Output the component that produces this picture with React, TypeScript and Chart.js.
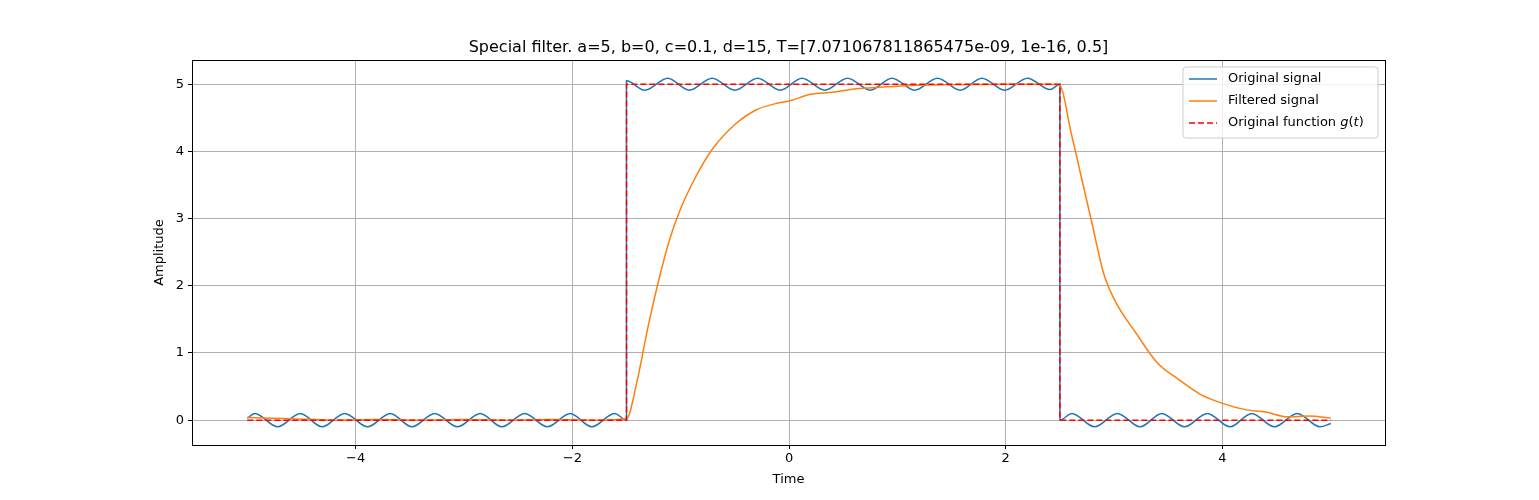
import { useEffect, useRef } from "react";
import { Chart, registerables } from "chart.js";

Chart.register(...registerables);

const origX = [
  -5.0, -4.93, -4.72, -4.51, -4.31, -4.1, -3.89, -3.68, -3.48, -3.27, -3.06, -2.85, -2.65, -2.44, -2.23, -2.02,
  -1.82, -1.61, -1.5, -1.5, -1.33, -1.12, -0.92, -0.71, -0.5, -0.29, -0.08, 0.12, 0.33, 0.54, 0.75, 0.95, 1.16,
  1.37, 1.58, 1.78, 1.99, 2.2, 2.41, 2.5, 2.5, 2.61, 2.82, 3.03, 3.24, 3.44, 3.65, 3.86, 4.07, 4.27, 4.48, 4.69,
  4.9, 5.0,
];
const origY = [
  0.03, 0.1, -0.1, 0.1, -0.1, 0.1, -0.1, 0.1, -0.1, 0.1, -0.1, 0.1, -0.1, 0.1, -0.1, 0.1,
  -0.1, 0.1, 0.0, 5.05, 4.91, 5.09, 4.91, 5.09, 4.91, 5.09, 4.91, 5.09, 4.91, 5.09, 4.91, 5.09, 4.91,
  5.09, 4.91, 5.09, 4.91, 5.09, 4.92, 5.0, 0.0, 0.1, -0.1, 0.1, -0.1, 0.1, -0.1, 0.1, -0.1, 0.1, -0.1, 0.1,
  -0.1, -0.05,
];

const filtX = [
  -5.0, -4.6, -4.2, -3.8, -3.4, -3.0, -2.6, -2.2, -1.8, -1.5, -1.4, -1.3, -1.2, -1.1, -1.0, -0.9, -0.8, -0.7,
  -0.5, -0.3, -0.1, 0.0, 0.2, 0.4, 0.6, 0.8, 1.0, 1.4, 2.0, 2.4, 2.5, 2.6, 2.7, 2.8, 2.9, 3.0, 3.2, 3.4, 3.6,
  3.8, 4.0, 4.2, 4.4, 4.6, 4.8, 5.0,
];
const filtY = [
  0.04, 0.02, 0.0, 0.01, 0.0, 0.01, 0.0, 0.01, 0.0, 0.02, 0.6, 1.4, 2.1, 2.7, 3.15, 3.5, 3.8, 4.05,
  4.4, 4.62, 4.72, 4.75, 4.85, 4.88, 4.93, 4.95, 4.97, 4.99, 5.0, 5.0, 4.98, 4.3, 3.6, 2.9, 2.2, 1.8, 1.3, 0.85, 0.6,
  0.38, 0.25, 0.16, 0.12, 0.05, 0.06, 0.03,
];

const gX = [-5, -1.5, -1.5, 2.5, 2.5, 5];
const gY = [0, 0, 5, 5, 0, 0];

const xTicks = [-4, -2, 0, 2, 4];
const yTicks = [0, 1, 2, 3, 4, 5];

const title = "Special filter. a=5, b=0, c=0.1, d=15, T=[7.071067811865475e-09, 1e-16, 0.5]";
const FONT = "DejaVu Sans";

const pts = (xs: number[], ys: number[]) => xs.map((x, i) => ({ x, y: ys[i] }));

const decor = {
  id: "decor",
  afterDraw(chart: any) {
    const { ctx, chartArea: a } = chart;
    ctx.save();
    ctx.strokeStyle = "#000";
    ctx.lineWidth = 1;
    ctx.strokeRect(a.left + 0.5, a.top + 0.5, a.right - a.left, a.bottom - a.top);
    ctx.fillStyle = "#000";
    ctx.textAlign = "center";
    ctx.textBaseline = "alphabetic";
    ctx.font = `16px ${FONT}`;
    ctx.fillText(title, (a.left + a.right) / 2, 52);
    // axis labels
    ctx.font = `13px ${FONT}`;
    ctx.textBaseline = "middle";
    ctx.fillText("Time", (a.left + a.right) / 2, 480);
    ctx.save();
    ctx.translate(160, (a.top + a.bottom) / 2);
    ctx.rotate(-Math.PI / 2);
    ctx.fillText("Amplitude", 0, 0);
    ctx.restore();
    // legend
    const lx = 1183, ly = 67, lw = 195, lh = 71;
    ctx.fillStyle = "rgba(255,255,255,0.8)";
    ctx.strokeStyle = "#cccccc";
    ctx.beginPath();
    ctx.roundRect(lx, ly, lw, lh, 3);
    ctx.fill();
    ctx.stroke();
    const items = [
      { c: "#1f77b4", dash: [] as number[] },
      { c: "#ff7f0e", dash: [] as number[] },
      { c: "#ff0000", dash: [6, 3] },
    ];
    ctx.textAlign = "left";
    items.forEach((it, i) => {
      const y = ly + 12 + i * 22;
      ctx.strokeStyle = it.c;
      ctx.lineWidth = 1.5;
      ctx.setLineDash(it.dash);
      ctx.beginPath();
      ctx.moveTo(lx + 6, y);
      ctx.lineTo(lx + 34, y);
      ctx.stroke();
      ctx.setLineDash([]);
      ctx.fillStyle = "#000";
      const tx = lx + 45;
      if (i === 0) ctx.fillText("Original signal", tx, y);
      else if (i === 1) ctx.fillText("Filtered signal", tx, y);
      else {
        const s = "Original function ";
        ctx.fillText(s, tx, y);
        let x = tx + ctx.measureText(s).width;
        const parts: [string, boolean][] = [["g", true], ["(", false], ["t", true], [")", false]];
        for (const [p, it2] of parts) {
          ctx.font = `${it2 ? "italic " : ""}13px ${FONT}`;
          ctx.fillText(p, x, y);
          x += ctx.measureText(p).width;
        }
        ctx.font = `13px ${FONT}`;
      }
    });
    ctx.restore();
  },
};

export default function App() {
  const canvasRef = useRef<HTMLCanvasElement | null>(null);
  const chartRef = useRef<Chart | null>(null);

  useEffect(() => {
    document.body.style.margin = "0";
    const ctx = canvasRef.current?.getContext("2d");
    if (!ctx) return;
    const tickFont = { family: FONT, size: 13 };
    chartRef.current = new Chart(ctx, {
      type: "line",
      data: {
        datasets: [
          {
            label: "Original signal",
            data: pts(origX, origY),
            borderColor: "#1f77b4",
            borderWidth: 1.5,
            pointRadius: 0,
            cubicInterpolationMode: "monotone",
            order: 3,
          },
          {
            label: "Filtered signal",
            data: pts(filtX, filtY),
            borderColor: "#ff7f0e",
            borderWidth: 1.5,
            pointRadius: 0,
            cubicInterpolationMode: "monotone",
            order: 2,
          },
          {
            label: "Original function g(t)",
            data: pts(gX, gY),
            borderColor: "#ff0000",
            borderWidth: 1.5,
            borderDash: [6, 3],
            pointRadius: 0,
            order: 1,
          },
        ],
      },
      options: {
        animation: false,
        responsive: false,
        layout: { padding: { top: 60, right: 154, left: 0, bottom: 0 } },
        plugins: { legend: { display: false }, tooltip: { enabled: false } },
        scales: {
          x: {
            type: "linear",
            min: -5.51,
            max: 5.5,
            afterBuildTicks: (s: any) => { s.ticks = xTicks.map((v) => ({ value: v })); },
            afterFit: (s: any) => { s.height = 55; },
            ticks: {
              font: tickFont,
              color: "#000",
              padding: 2,
              callback: (v: any) => String(v).replace("-", "\u2212"),
            },
            grid: { color: "#b0b0b0", tickColor: "#000", tickLength: 4 },
            border: { color: "#000" },
          },
          y: {
            type: "linear",
            min: -0.37,
            max: 5.36,
            afterBuildTicks: (s: any) => { s.ticks = yTicks.map((v) => ({ value: v })); },
            afterFit: (s: any) => { s.width = 192; },
            ticks: { font: tickFont, color: "#000", padding: 4 },
            grid: { color: "#b0b0b0", tickColor: "#000", tickLength: 4 },
            border: { color: "#000" },
          },
        },
      },
      plugins: [decor],
    });
    return () => {
      chartRef.current?.destroy();
    };
  }, []);

  return (
    <div style={{ width: 1539, height: 500, background: "#fff" }}>
      <canvas ref={canvasRef} width={1539} height={500} />
    </div>
  );
}
